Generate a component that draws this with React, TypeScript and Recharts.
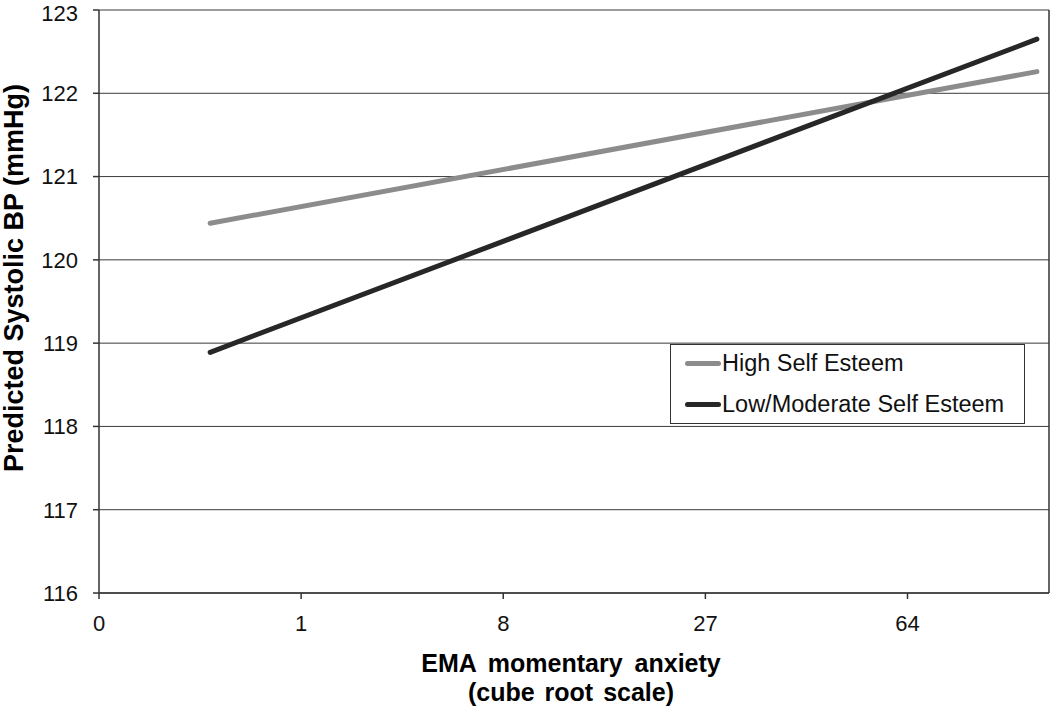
import {
  LineChart,
  Line,
  XAxis,
  YAxis,
  CartesianGrid,
  ReferenceLine,
} from "recharts";

// x positions are on the cube-root scale (0..4.7), labels are the cubes
const xCubeRoot = [0.55, 4.64];
const highSelfEsteem = [120.44, 122.26];
const lowModSelfEsteem = [118.89, 122.65];
const xTicks = [0, 1, 2, 3, 4];
const xTickLabels = ["0", "1", "8", "27", "64"];
const yTicks = [116, 117, 118, 119, 120, 121, 122, 123];

const seriesNames = ["High Self Esteem", "Low/Moderate Self Esteem"];
const seriesColors = ["#8c8c8c", "#272727"];

const data = xCubeRoot.map((x, i) => ({
  x,
  high: highSelfEsteem[i],
  low: lowModSelfEsteem[i],
}));

const FONT = "Liberation Sans, Arial, sans-serif";

function XTitle(props: any) {
  const { viewBox } = props;
  const cx = viewBox.x + viewBox.width / 2 - 3;
  return (
    <g fontFamily={FONT} fontWeight="bold" fontSize={25} fill="#000">
      <text x={cx} y={viewBox.y + 79} textAnchor="middle" wordSpacing={5}>
        EMA momentary anxiety
      </text>
      <text x={cx} y={viewBox.y + 108} textAnchor="middle" wordSpacing={3}>
        (cube root scale)
      </text>
    </g>
  );
}

function YTitle() {
  const cx = 23;
  const cy = 278;
  return (
    <text
      x={cx}
      y={cy}
      transform={`rotate(-90, ${cx}, ${cy})`}
      textAnchor="middle"
      fontFamily={FONT}
      fontWeight="bold"
      fontSize={27}
      fill="#000"
    >
      Predicted Systolic BP (mmHg)
    </text>
  );
}

function LegendBox() {
  return (
    <div
      style={{
        position: "absolute",
        left: 670,
        top: 344,
        width: 355,
        height: 80,
        boxSizing: "border-box",
        border: "1.5px solid #333",
        background: "#fff",
        fontFamily: FONT,
        fontSize: 23.5,
        color: "#111",
        paddingLeft: 14,
        paddingTop: 0,
      }}
    >
      {seriesNames.map((name, i) => (
        <div
          key={name}
          style={{
            display: "flex",
            alignItems: "center",
            height: 41,
            marginTop: i === 0 ? -2 : 0,
          }}
        >
          <span
            style={{
              display: "inline-block",
              width: 36,
              height: 5,
              borderRadius: 3,
              background: seriesColors[i],
              marginRight: 1,
            }}
          />
          <span>{name}</span>
        </div>
      ))}
    </div>
  );
}

export default function App() {
  return (
    <div
      style={{
        position: "absolute",
        left: 0,
        top: 0,
        width: 1050,
        height: 710,
        background: "#fff",
      }}
    >
      <LineChart
        width={1050}
        height={710}
        data={data}
        margin={{ top: 10, right: 1, bottom: 77, left: 0 }}
      >
        <CartesianGrid
          vertical={false}
          stroke="#3a3a3a"
          strokeWidth={1}
          horizontalValues={yTicks}
        />
        <XAxis
          dataKey="x"
          type="number"
          domain={[0, 4.7]}
          ticks={xTicks}
          tickFormatter={(v: number) => xTickLabels[xTicks.indexOf(v)] ?? ""}
          tickSize={6}
          tickMargin={16}
          height={40}
          stroke="#333"
          strokeWidth={1.5}
          tick={{ fill: "#111", fontSize: 22, fontFamily: FONT }}
          label={<XTitle />}
          allowDataOverflow
        />
        <YAxis
          type="number"
          domain={[116, 123]}
          ticks={yTicks}
          width={99}
          tickSize={6}
          tickMargin={15}
          stroke="#333"
          strokeWidth={1.5}
          tick={{ fill: "#111", fontSize: 22, fontFamily: FONT }}
          label={<YTitle />}
          allowDataOverflow
        />
        <ReferenceLine x={4.7} stroke="#333" strokeWidth={1.5} />
        <Line
          dataKey="high"
          name={seriesNames[0]}
          stroke={seriesColors[0]}
          strokeWidth={5}
          strokeLinecap="round"
          dot={false}
          isAnimationActive={false}
        />
        <Line
          dataKey="low"
          name={seriesNames[1]}
          stroke={seriesColors[1]}
          strokeWidth={5}
          strokeLinecap="round"
          dot={false}
          isAnimationActive={false}
        />
      </LineChart>
      <LegendBox />
    </div>
  );
}
